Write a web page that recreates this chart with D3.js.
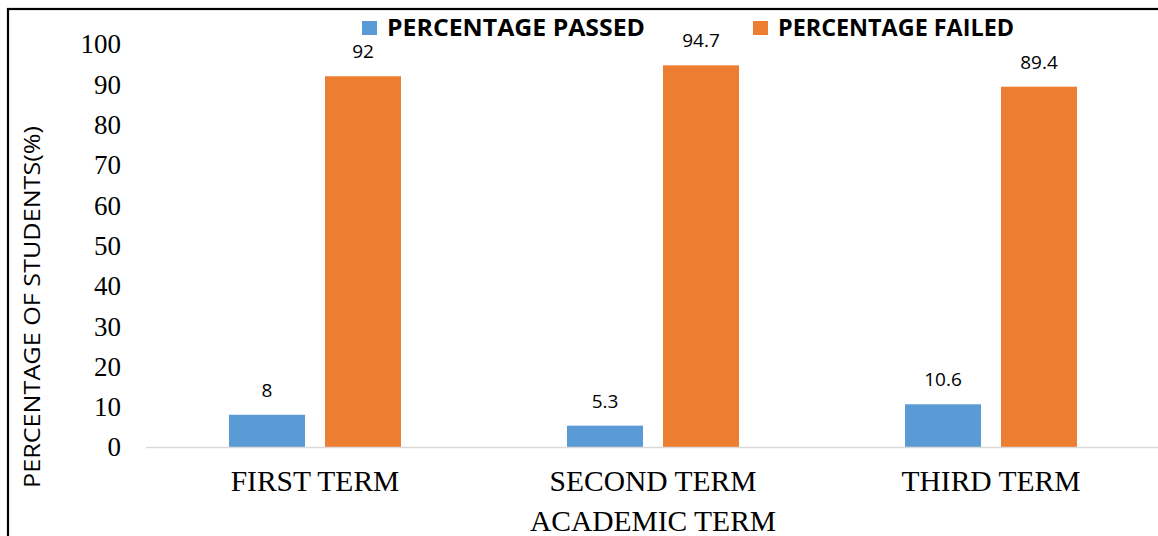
<!DOCTYPE html>
<html>
<head>
<meta charset="utf-8">
<script src="https://cdn.jsdelivr.net/npm/d3@7"></script>
<style>
  body { margin: 0; background: #fff; }
  svg { display: block; }
</style>
</head>
<body>
<svg id="chart"></svg>
<script>
const terms = ['FIRST TERM', 'SECOND TERM', 'THIRD TERM'];
const seriesNames = ['PERCENTAGE PASSED', 'PERCENTAGE FAILED'];
const passed = [8, 5.3, 10.6];
const failed = [92, 94.7, 89.4];
const yTicks = [0, 10, 20, 30, 40, 50, 60, 70, 80, 90, 100];
const colors = ['#5B9BD5', '#ED7D31'];

const width = 1158;
const height = 536;
const serif = '"Liberation Serif", "Times New Roman", serif';
const sans = '"Open Sans", "Noto Sans", sans-serif';

const svg = d3.select('#chart').attr('width', width).attr('height', height);

// outer frame (only top and left edges visible in the picture)
svg.append('rect')
  .attr('x', 8).attr('y', 9)
  .attr('width', 1200).attr('height', 600)
  .attr('fill', 'none')
  .attr('stroke', '#000')
  .attr('stroke-width', 2.2);

const y = d3.scaleLinear().domain([0, 100]).range([447, 44]);
const x0 = d3.scaleBand().domain(terms).range([146, 1160]);
const x1 = d3.scaleBand()
  .domain(seriesNames)
  .range([83, 255])
  .paddingInner(20 / 96);

const rows = terms.map((t, i) => ({ term: t, values: [passed[i], failed[i]] }));

// y tick labels
svg.append('g')
  .selectAll('text')
  .data(yTicks)
  .join('text')
  .attr('x', 121)
  .attr('y', d => y(d))
  .attr('dy', '0.35em')
  .attr('text-anchor', 'end')
  .attr('font-family', serif)
  .attr('font-size', 27)
  .text(d => d);

// bars
const group = svg.append('g')
  .selectAll('g')
  .data(rows)
  .join('g')
  .attr('transform', d => `translate(${x0(d.term)},0)`);

group.selectAll('rect')
  .data(d => d.values.map((v, i) => ({ name: seriesNames[i], value: v, i })))
  .join('rect')
  .attr('x', d => x1(d.name))
  .attr('y', d => y(d.value))
  .attr('width', x1.bandwidth())
  .attr('height', d => y(0) - y(d.value))
  .attr('fill', d => colors[d.i]);

group.selectAll('text')
  .data(d => d.values.map((v, i) => ({ name: seriesNames[i], value: v })))
  .join('text')
  .attr('x', d => x1(d.name) + x1.bandwidth() / 2)
  .attr('y', d => y(d.value) - 18)
  .attr('text-anchor', 'middle')
  .attr('font-family', sans)
  .attr('font-size', 19)
  .attr('fill', '#000')
  .text(d => d.value);

// baseline
svg.append('line')
  .attr('x1', 146).attr('x2', width)
  .attr('y1', y(0) + 0.5).attr('y2', y(0) + 0.5)
  .attr('stroke', '#d9d9d9')
  .attr('stroke-width', 1.5);

// x tick labels
svg.append('g')
  .selectAll('text')
  .data(terms)
  .join('text')
  .attr('x', d => x0(d) + x0.bandwidth() / 2)
  .attr('y', 491)
  .attr('text-anchor', 'middle')
  .attr('font-family', serif)
  .attr('font-size', 29.5)
  .text(d => d);

// axis titles
svg.append('text')
  .attr('x', x0('SECOND TERM') + x0.bandwidth() / 2)
  .attr('y', 531)
  .attr('text-anchor', 'middle')
  .attr('font-family', serif)
  .attr('font-size', 29.5)
  .text('ACADEMIC TERM');

svg.append('text')
  .attr('transform', 'translate(40,307) rotate(-90)')
  .attr('text-anchor', 'middle')
  .attr('textLength', 362)
  .attr('lengthAdjust', 'spacingAndGlyphs')
  .attr('font-family', sans)
  .attr('font-size', 22)
  .text('PERCENTAGE OF STUDENTS(%)');

// legend
const legendX = [362, 753];
const legendW = [258, 236];
const legend = svg.append('g')
  .selectAll('g')
  .data(seriesNames)
  .join('g')
  .attr('transform', (d, i) => `translate(${legendX[i]},21)`);

legend.append('rect')
  .attr('width', 15).attr('height', 14)
  .attr('fill', (d, i) => colors[i]);

legend.append('text')
  .attr('x', 25)
  .attr('y', 15)
  .attr('textLength', (d, i) => legendW[i])
  .attr('lengthAdjust', 'spacingAndGlyphs')
  .attr('font-family', sans)
  .attr('font-weight', 'bold')
  .attr('font-size', 23)
  .text(d => d);
</script>
</body>
</html>
